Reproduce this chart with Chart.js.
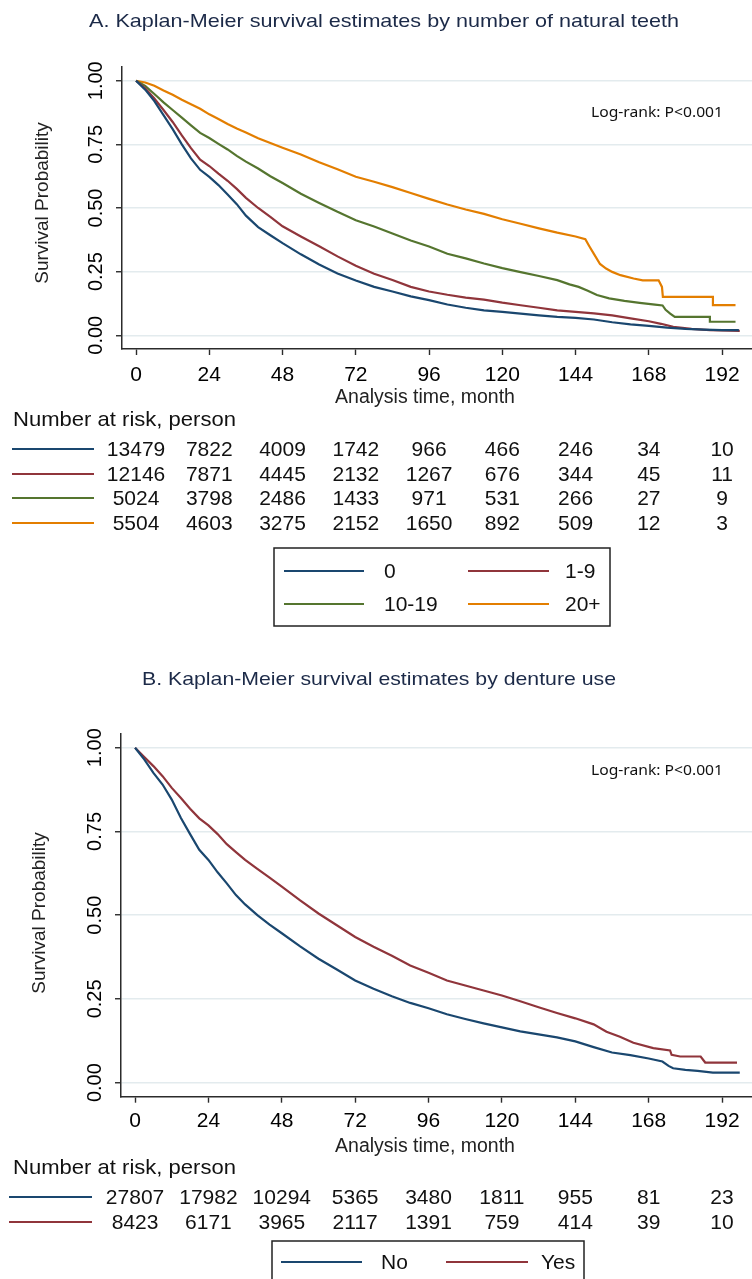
<!DOCTYPE html>
<html><head><meta charset="utf-8">
<script src="https://cdn.jsdelivr.net/npm/chart.js@4.4.1/dist/chart.umd.min.js"></script>
<style>
html,body{margin:0;padding:0;background:#fff;width:752px;height:1279px;overflow:hidden}
.panel{position:absolute;left:0;width:752px}
#pa{top:0;height:640px}
#pb{top:640px;height:639px}
canvas{display:block}
</style></head><body>
<div class="panel" id="pa"><canvas id="ca" width="752" height="640"></canvas></div>
<div class="panel" id="pb"><canvas id="cb" width="752" height="639"></canvas></div>
<script>
// ---------------- DATA ----------------
const xTickValues = [0, 24, 48, 72, 96, 120, 144, 168, 192];
const yTickValues = [0, 0.25, 0.5, 0.75, 1];

const teethGroups = ['0', '1-9', '10-19', '20+'];
const teeth0Time = [0,3,6,9,12,15,18,21,24,27,30,33,36,40,44,48,54,60,66,72,78,84,90,96,102,108,114,120,126,132,138,144,150,156,162,168,174,180,186,192,197.5];
const teeth0Surv = [1,0.965,0.92,0.865,0.81,0.75,0.695,0.65,0.622,0.59,0.553,0.515,0.47,0.425,0.393,0.362,0.318,0.278,0.243,0.215,0.19,0.172,0.153,0.138,0.121,0.108,0.098,0.092,0.085,0.078,0.072,0.068,0.062,0.051,0.043,0.037,0.03,0.025,0.022,0.02,0.02];
const teeth1to9Time = [0,3,6,9,12,15,18,21,24,27,30,33,36,40,44,48,54,60,66,72,78,84,90,96,102,108,114,120,126,132,138,144,150,156,162,168,172,176,182,188,197.8];
const teeth1to9Surv = [1,0.97,0.93,0.885,0.838,0.785,0.735,0.69,0.665,0.635,0.607,0.575,0.54,0.5,0.465,0.428,0.388,0.35,0.31,0.273,0.242,0.217,0.19,0.172,0.159,0.148,0.14,0.128,0.118,0.108,0.098,0.092,0.086,0.078,0.066,0.055,0.045,0.033,0.025,0.02,0.017];
const teeth10to19Time = [0,3,6,9,12,15,18,21,24,27,30,33,36,40,44,48,54,60,66,72,78,84,90,96,102,108,114,120,126,132,138,142,145,148,151,155,160,165,170,172.5,173.5,175,176.5,188,188,196.4];
const teeth10to19Surv = [1,0.98,0.948,0.915,0.885,0.855,0.825,0.795,0.775,0.752,0.73,0.705,0.682,0.655,0.625,0.598,0.556,0.52,0.485,0.452,0.427,0.4,0.372,0.349,0.32,0.302,0.282,0.264,0.248,0.233,0.2165,0.2,0.19,0.175,0.158,0.145,0.135,0.127,0.12,0.117,0.1,0.085,0.072,0.072,0.053,0.053];
const teeth20plusTime = [0,3,6,9,12,15,18,21,24,27,30,33,36,40,44,48,54,60,66,72,78,84,90,96,102,108,114,120,126,132,138,144,147.2,148.5,150,152,154,156,158.7,163,166,171.2,172.3,172.6,189,189,196.4];
const teeth20plusSurv = [1,0.993,0.98,0.962,0.945,0.925,0.908,0.89,0.868,0.85,0.83,0.812,0.797,0.774,0.755,0.737,0.71,0.68,0.652,0.623,0.603,0.582,0.559,0.536,0.514,0.494,0.477,0.456,0.438,0.42,0.403,0.388,0.377,0.35,0.32,0.28,0.262,0.249,0.236,0.223,0.216,0.216,0.19,0.151,0.151,0.118,0.118];

const riskTeeth0 = [13479, 7822, 4009, 1742, 966, 466, 246, 34, 10];
const riskTeeth1to9 = [12146, 7871, 4445, 2132, 1267, 676, 344, 45, 11];
const riskTeeth10to19 = [5024, 3798, 2486, 1433, 971, 531, 266, 27, 9];
const riskTeeth20plus = [5504, 4603, 3275, 2152, 1650, 892, 509, 12, 3];

const dentureGroups = ['No', 'Yes'];
const dentureNoTime = [0,3,6,9,12,15,18,21,24,27,30,33,36,40,44,48,54,60,66,72,78,84,90,96,102,108,114,120,126,132,138,144,150,156,162,168,172.5,174.5,176,180,184,189,197.8];
const dentureNoSurv = [1,0.965,0.925,0.89,0.845,0.79,0.742,0.695,0.665,0.628,0.595,0.56,0.532,0.5,0.472,0.446,0.407,0.37,0.338,0.305,0.28,0.258,0.238,0.222,0.204,0.19,0.177,0.165,0.153,0.144,0.135,0.123,0.106,0.09,0.082,0.072,0.063,0.05,0.043,0.038,0.035,0.03,0.03];
const dentureYesTime = [0,3,6,9,12,15,18,21,24,27,30,33,36,40,44,48,54,60,66,72,78,84,90,96,102,108,114,120,126,132,138,144,150,154.2,158.6,163,169.5,175,175.5,178.3,185,186.5,196.9];
const dentureYesSurv = [1,0.972,0.945,0.915,0.88,0.85,0.818,0.789,0.768,0.742,0.712,0.688,0.665,0.638,0.612,0.585,0.544,0.505,0.47,0.435,0.406,0.379,0.35,0.328,0.305,0.29,0.275,0.26,0.243,0.225,0.208,0.192,0.174,0.152,0.137,0.119,0.103,0.096,0.083,0.078,0.078,0.06,0.06];

const riskDentureNo = [27807, 17982, 10294, 5365, 3480, 1811, 955, 81, 23];
const riskDentureYes = [8423, 6171, 3965, 2117, 1391, 759, 414, 39, 10];

const titleA = 'A. Kaplan-Meier survival estimates by number of natural teeth';
const titleB = 'B. Kaplan-Meier survival estimates by denture use';
const yAxisTitle = 'Survival Probability';
const xAxisTitle = 'Analysis time, month';
const riskTitle = 'Number at risk, person';
const logRankText = 'Log-rank: P<0.001';

// ---------------- STYLE ----------------
const FONT = "'Liberation Sans', Arial, Helvetica, sans-serif";
const COLORS = ['#1a476f', '#90353b', '#55752f', '#e37e00'];
const AXIS = '#2b2b2b';
const GRID = '#e3ebee';

function toPoints(t, s) { return t.map((v, i) => ({ x: v, y: s[i] })); }

function drawText(ctx, txt, x, y, o) {
  ctx.save();
  ctx.font = (o.size) + 'px ' + (o.family || FONT);
  ctx.fillStyle = o.color || '#000';
  ctx.textBaseline = 'middle';
  ctx.textAlign = o.align || 'left';
  ctx.translate(x, y);
  if (o.rotate) ctx.rotate(o.rotate);
  if (o.width) { const w = ctx.measureText(txt).width; ctx.scale(o.width / w, 1); }
  ctx.fillText(txt, 0, 0);
  ctx.restore();
}

const decor = {
  id: 'decor',
  afterDraw(chart, args, o) {
    const ctx = chart.ctx;
    const xs = chart.scales.x;
    const ca = chart.chartArea;
    // title
    drawText(ctx, o.title, o.titleX, o.titleY, { size: o.titleSize, color: '#1c2a48', align: 'center', width: o.titleW });
    // y axis title
    drawText(ctx, yAxisTitle, o.yTitleX, (ca.top + ca.bottom) / 2 + o.yTitleDy, { size: 19, color: '#222', align: 'center', rotate: -Math.PI / 2 });
    // x axis title
    drawText(ctx, xAxisTitle, o.xTitleX, o.xTitleY, { size: 19.5, color: '#222', align: 'center' });
    // log-rank
    drawText(ctx, logRankText, o.lrX, o.lrY, { size: 15, color: '#111', align: 'right', family: "'Noto Sans', 'Liberation Sans', sans-serif", width: 132 });
    // number at risk
    drawText(ctx, riskTitle, 13, o.riskTitleY, { size: 21, color: '#111', align: 'left', width: 223 });
    o.risk.forEach((row, i) => {
      const y = o.rowY[i];
      ctx.save();
      ctx.strokeStyle = COLORS[o.colorIdx[i]];
      ctx.lineWidth = 2.2;
      ctx.beginPath(); ctx.moveTo(o.rowLine[0], y); ctx.lineTo(o.rowLine[1], y); ctx.stroke();
      ctx.restore();
      row.forEach((n, j) => {
        drawText(ctx, String(n), xs.getPixelForValue(xTickValues[j]), y + 1, { size: 21, color: '#111', align: 'center' });
      });
    });
    // legend box
    const L = o.legend;
    ctx.save();
    ctx.strokeStyle = '#222'; ctx.lineWidth = 1.5;
    ctx.strokeRect(L.x0, L.y0, L.x1 - L.x0, L.y1 - L.y0);
    ctx.restore();
    L.items.forEach((it, k) => {
      const col = k % 2, rowi = Math.floor(k / 2);
      const y = L.rowY[rowi];
      const lx = L.lines[col];
      ctx.save();
      ctx.strokeStyle = COLORS[o.colorIdx[k]]; ctx.lineWidth = 2.2;
      ctx.beginPath(); ctx.moveTo(lx[0], y); ctx.lineTo(lx[1], y); ctx.stroke();
      ctx.restore();
      drawText(ctx, it, L.textX[col], y + 1, { size: 21, color: '#111', align: 'left' });
    });
  }
};

function makeChart(id, cfg) {
  const H = cfg.h, XAXH = 40;
  return new Chart(document.getElementById(id), {
    type: 'line',
    data: {
      datasets: cfg.series.map((s, i) => ({
        label: s.label, data: toPoints(s.t, s.s),
        borderColor: COLORS[cfg.colorIdx[i]], borderWidth: 2.2,
        pointRadius: 0, tension: 0, fill: false, borderJoinStyle: 'miter'
      }))
    },
    options: {
      responsive: false, animation: false, devicePixelRatio: 1,
      layout: { padding: { top: cfg.top, bottom: H - cfg.bottom - XAXH, left: 0, right: 0 } },
      plugins: {
        legend: { display: false }, tooltip: { enabled: false }, title: { display: false },
        decor: cfg.decor
      },
      scales: {
        x: {
          type: 'linear', min: -4.6, max: 201.8,
          afterBuildTicks: s => { s.ticks = xTickValues.map(v => ({ value: v })); },
          afterFit: s => { s.height = XAXH; },
          grid: { drawOnChartArea: false, drawTicks: true, tickLength: 6, tickColor: AXIS, tickWidth: 1.4 },
          border: { display: true, color: AXIS, width: 1.5 },
          ticks: { font: { size: 21, family: FONT }, color: '#000', padding: cfg.xPad, maxRotation: 0, minRotation: 0, autoSkip: false }
        },
        y: {
          type: 'linear', min: cfg.ymin, max: cfg.ymax,
          afterBuildTicks: s => { s.ticks = yTickValues.map(v => ({ value: v })); },
          afterFit: s => { s.width = cfg.left; },
          grid: { color: GRID, lineWidth: 1.5, drawTicks: true, tickLength: 6, tickColor: AXIS, tickWidth: 1.4 },
          border: { display: true, color: AXIS, width: 1.5 },
          ticks: { font: { size: 20, family: FONT }, color: '#000', padding: 0, minRotation: 90, maxRotation: 90, crossAlign: 'center', callback: v => Number(v).toFixed(2) }
        }
      }
    },
    plugins: [decor]
  });
}

// Panel A
makeChart('ca', {
  h: 640, top: 67, bottom: 349, left: 122, ymin: -0.054, ymax: 1.054, xPad: 8,
  colorIdx: [0, 1, 2, 3],
  series: [
    { label: teethGroups[0], t: teeth0Time, s: teeth0Surv },
    { label: teethGroups[1], t: teeth1to9Time, s: teeth1to9Surv },
    { label: teethGroups[2], t: teeth10to19Time, s: teeth10to19Surv },
    { label: teethGroups[3], t: teeth20plusTime, s: teeth20plusSurv }
  ],
  decor: {
    title: titleA, titleX: 384, titleY: 22, titleSize: 19, titleW: 590,
    yTitleX: 43, yTitleDy: -5, xTitleX: 425, xTitleY: 398,
    lrX: 723, lrY: 113,
    riskTitleY: 420,
    risk: [riskTeeth0, riskTeeth1to9, riskTeeth10to19, riskTeeth20plus],
    rowY: [449, 474, 498, 523], rowLine: [12, 94], colorIdx: [0, 1, 2, 3],
    legend: { x0: 274, y0: 548, x1: 610, y1: 626, rowY: [571, 604], lines: [[284, 364], [468, 549]], textX: [384, 565], items: teethGroups }
  }
});

// Panel B (canvas offset 640)
makeChart('cb', {
  h: 639, top: 93.3, bottom: 456.7, left: 121, ymin: -0.042, ymax: 1.043, xPad: 6,
  colorIdx: [0, 1],
  series: [
    { label: dentureGroups[0], t: dentureNoTime, s: dentureNoSurv },
    { label: dentureGroups[1], t: dentureYesTime, s: dentureYesSurv }
  ],
  decor: {
    title: titleB, titleX: 379, titleY: 40, titleSize: 19, titleW: 474,
    yTitleX: 40, yTitleDy: -2, xTitleX: 425, xTitleY: 506.5,
    lrX: 723, lrY: 131,
    riskTitleY: 528,
    risk: [riskDentureNo, riskDentureYes],
    rowY: [557, 582], rowLine: [9, 92], colorIdx: [0, 1],
    legend: { x0: 272, y0: 601, x1: 584, y1: 660, rowY: [622], lines: [[281, 362], [446, 528]], textX: [381, 541], items: dentureGroups }
  }
});
</script>
</body></html>
